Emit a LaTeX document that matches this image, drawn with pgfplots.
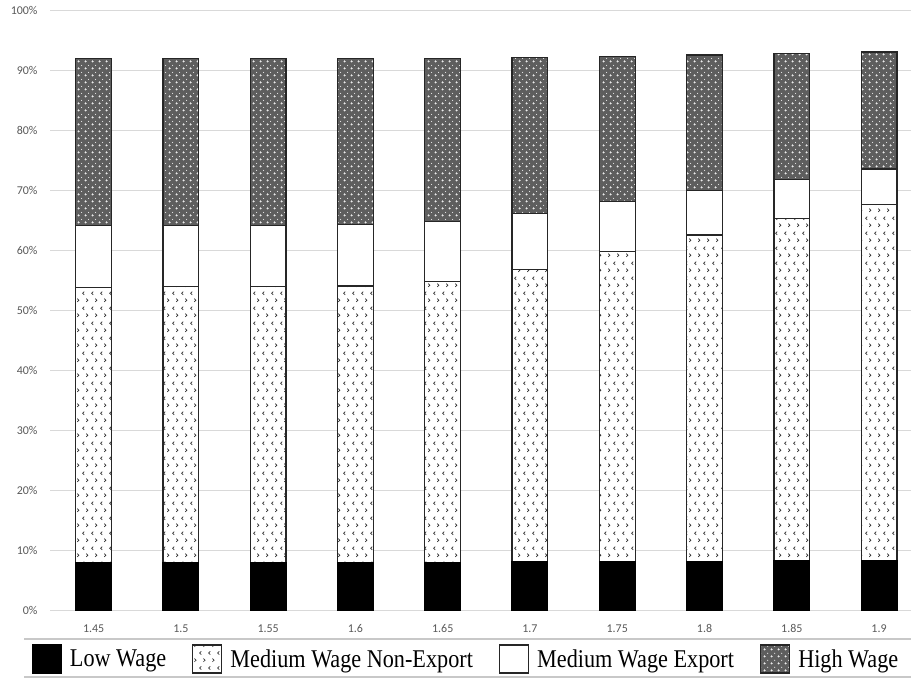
\documentclass[border=0pt]{standalone}
\usepackage{fontspec}
\setmainfont{Liberation Serif}
\newfontfamily\calibri{Carlito}
\usepackage{pgfplots}
\pgfplotsset{compat=1.18}
\usetikzlibrary{patterns}

\definecolor{tickgray}{HTML}{595959}
\definecolor{gridgray}{HTML}{D9D9D9}
\definecolor{rulegray}{HTML}{C8C8C8}
\definecolor{highfill}{HTML}{5E5E5E}

% sparse < > marks, medium wage non-export
\pgfdeclarepatternformonly{chevrons}{\pgfqpoint{0bp}{0bp}}{\pgfqpoint{9bp}{15bp}}{\pgfqpoint{9bp}{15bp}}{%
  \pgfsetlinewidth{0.7bp}
  \pgfpathmoveto{\pgfqpoint{3.6bp}{13.2bp}}\pgfpathlineto{\pgfqpoint{1.8bp}{11.5bp}}\pgfpathlineto{\pgfqpoint{3.6bp}{9.8bp}}
  \pgfpathmoveto{\pgfqpoint{5.9bp}{5.7bp}}\pgfpathlineto{\pgfqpoint{7.7bp}{4bp}}\pgfpathlineto{\pgfqpoint{5.9bp}{2.3bp}}
  \pgfusepath{stroke}
}
% small plus signs and dots, high wage
\pgfdeclarepatternformonly{pluses}{\pgfqpoint{0bp}{0bp}}{\pgfqpoint{7bp}{7bp}}{\pgfqpoint{7bp}{7bp}}{%
  \pgfsetlinewidth{0.8bp}
  \pgfpathmoveto{\pgfqpoint{0.6bp}{1.75bp}}\pgfpathlineto{\pgfqpoint{2.9bp}{1.75bp}}
  \pgfpathmoveto{\pgfqpoint{1.75bp}{0.6bp}}\pgfpathlineto{\pgfqpoint{1.75bp}{2.9bp}}
  \pgfusepath{stroke}
  \pgfpathcircle{\pgfqpoint{5.25bp}{5.25bp}}{0.6bp}
  \pgfusepath{fill}
}

\pgfplotsset{
  lgbox/.style={legend image code/.code={\draw[##1] (0bp,-14bp) rectangle (29bp,14bp);}},
}
\newcommand{\lgtext}[1]{\scalebox{1}[1.15]{#1}}

\begin{document}
\begin{tikzpicture}
\begin{axis}[
  scale only axis,
  width=861bp, height=600bp,
  ybar stacked,
  bar width=0.41,
  xmin=-0.5, xmax=9.366,
  ymin=0, ymax=100,
  xtick=data,
  xticklabels={1.45,1.5,1.55,1.6,1.65,1.7,1.75,1.8,1.85,1.9},
  ytick={0,10,...,100},
  yticklabel={\pgfmathprintnumber{\tick}\%},
  /pgf/number format/assume math mode=true,
  major tick length=0pt,
  axis line style={draw=none},
  ymajorgrids,
  major grid style={draw=gridgray, line width=1.3bp},
  ticklabel style={font=\calibri\fontsize{12}{14}\selectfont, text=tickgray},
  yticklabel style={xshift=-9bp},
  xticklabel style={yshift=-10bp, text height=8bp, text depth=0bp},
  clip=false,
  legend columns=4,
  legend style={at={(axis description cs:0.482,-0.0805)}, anchor=center,
    draw=none, fill=none, font=\fontsize{22.3}{25}\selectfont,
    nodes={inner sep=0pt},
    /tikz/every odd column/.style={column sep=8bp},
    /tikz/every even column/.style={column sep=26bp}},
]
\addplot[lgbox, fill=black, draw=black, line width=1.2bp]
  coordinates {(0,8.0) (1,8.0) (2,8.0) (3,8.0) (4,8.0) (5,8.1) (6,8.2) (7,8.2) (8,8.3) (9,8.3)};
\addplot[lgbox, fill=white, draw=black!85, line width=1.2bp, postaction={pattern=chevrons, pattern color=black!80}]
  coordinates {(0,45.8) (1,46.0) (2,46.0) (3,46.1) (4,46.8) (5,48.8) (6,51.6) (7,54.4) (8,57.0) (9,59.4)};
\addplot[lgbox, fill=white, draw=black!85, line width=1.2bp]
  coordinates {(0,10.4) (1,10.2) (2,10.2) (3,10.2) (4,10.0) (5,9.3) (6,8.4) (7,7.4) (8,6.5) (9,5.9)};
\addplot[lgbox, fill=highfill, draw=black!85, line width=1.2bp, postaction={pattern=pluses, pattern color=white!85!gray}]
  coordinates {(0,27.8) (1,27.8) (2,27.8) (3,27.7) (4,27.2) (5,26.0) (6,24.2) (7,22.6) (8,21.1) (9,19.5)};
\legend{\lgtext{Low Wage}, \lgtext{Medium Wage Non-Export}, \lgtext{Medium Wage Export}, \lgtext{High Wage}}
\draw[rulegray, line width=2bp] (axis description cs:-0.0302,-0.0477) -- (axis description cs:1,-0.0477);
\draw[rulegray, line width=2bp] (axis description cs:-0.0302,-0.1105) -- (axis description cs:1,-0.1105);
\coordinate (bl) at (axis description cs:-0.05807,-0.1138);
\coordinate (tr) at (axis description cs:1,1.01783);
\end{axis}
\pgfresetboundingbox
\useasboundingbox (bl) rectangle (tr);
\end{tikzpicture}
\end{document}
